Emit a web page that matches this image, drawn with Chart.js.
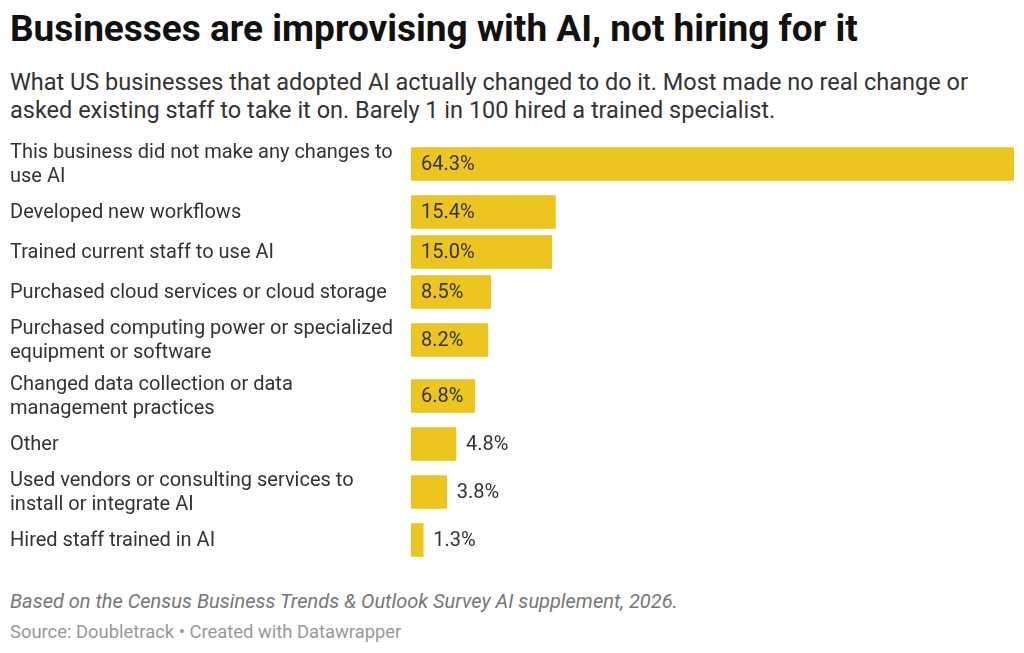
<!DOCTYPE html>
<html>
<head>
<meta charset="utf-8">
<script src="https://cdn.jsdelivr.net/npm/chart.js@4/dist/chart.umd.min.js"></script>
<style>
  body { margin: 0; background: #fff; font-family: Roboto, sans-serif; width: 1024px; height: 653px; overflow: hidden; position: relative; }
  h1 { position: absolute; left: 10px; top: 7px; margin: 0; font-size: 37px; line-height: 44px; font-weight: 700; color: #111; white-space: nowrap; }
  .sub { position: absolute; left: 10px; top: 68px; margin: 0; font-size: 23.5px; line-height: 28px; color: #333; white-space: nowrap; }
  #wrap { position: absolute; left: 10px; top: 136px; width: 1004px; height: 424px; }
  .note { position: absolute; left: 10px; top: 589px; font-size: 20px; line-height: 24px; font-style: italic; color: #777; white-space: nowrap; }
  .src { position: absolute; left: 10px; top: 621px; font-size: 18.4px; line-height: 22px; color: #999; white-space: nowrap; }
</style>
</head>
<body>
<h1>Businesses are improvising with AI, not hiring for it</h1>
<p class="sub">What US businesses that adopted AI actually changed to do it. Most made no real change or<br>asked existing staff to take it on. Barely 1 in 100 hired a trained specialist.</p>
<div id="wrap"><canvas id="chart" width="1004" height="424"></canvas></div>
<div class="note">Based on the Census Business Trends &amp; Outlook Survey AI supplement, 2026.</div>
<div class="src">Source: Doubletrack • Created with Datawrapper</div>

<script>
// categories, already split the way the labels wrap
const categories = [
  ['This business did not make any changes to', 'use AI'],
  ['Developed new workflows'],
  ['Trained current staff to use AI'],
  ['Purchased cloud services or cloud storage'],
  ['Purchased computing power or specialized', 'equipment or software'],
  ['Changed data collection or data', 'management practices'],
  ['Other'],
  ['Used vendors or consulting services to', 'install or integrate AI'],
  ['Hired staff trained in AI']
];
const values = [64.3, 15.4, 15.0, 8.5, 8.2, 6.8, 4.8, 3.8, 1.3];
const valueLabels = values.map(v => v.toFixed(1) + '%');

// row height grows with the number of label lines (like datawrapper does)
const rowHeight = lines => 24 + 16 * lines;
const centers = [];
let total = 0;
categories.forEach(c => {
  const h = rowHeight(c.length);
  centers.push(total + h / 2);
  total += h;
});

const barColor = '#ecc51e';
const textColor = '#333';
const labelFont = '20px Roboto';
const lineHeight = 24;

// category names on the left, values inside / after each bar
const labelPlugin = {
  id: 'labels',
  afterDatasetsDraw(chart) {
    const ctx = chart.ctx;
    const yScale = chart.scales.y;
    const meta = chart.getDatasetMeta(0);
    ctx.save();
    ctx.font = labelFont;
    ctx.fillStyle = textColor;
    ctx.textBaseline = 'middle';
    ctx.textAlign = 'left';
    categories.forEach((lines, i) => {
      const y = yScale.getPixelForValue(centers[i]);
      lines.forEach((line, j) => {
        ctx.fillText(line, yScale.left, y + 1 + (j - (lines.length - 1) / 2) * lineHeight);
      });
    });
    meta.data.forEach((bar, i) => {
      const text = valueLabels[i];
      const w = ctx.measureText(text).width;
      const inside = w + 20 <= bar.x - bar.base;
      ctx.fillText(text, inside ? bar.base + 10 : bar.x + 10, bar.y + 1);
    });
    ctx.restore();
  }
};

const ctx = document.getElementById('chart').getContext('2d');
const chart = new Chart(ctx, {
  type: 'bar',
  data: {
    datasets: [{
      data: values.map((v, i) => ({ x: v, y: centers[i] })),
      backgroundColor: barColor,
      barThickness: 33,
      borderWidth: 0
    }]
  },
  options: {
    indexAxis: 'y',
    responsive: false,
    animation: false,
    layout: { padding: 0 },
    plugins: { legend: { display: false }, tooltip: { enabled: false } },
    scales: {
      x: { display: false, min: 0, max: Math.max(...values) },
      y: {
        type: 'linear',
        reverse: true,
        offset: false,
        min: 0,
        max: total,
        grid: { display: false },
        border: { display: false },
        ticks: { display: false },
        afterFit: s => { s.width = 401; s.paddingTop = 0; s.paddingBottom = 0; }
      }
    }
  },
  plugins: [labelPlugin]
});
</script>
</body>
</html>
